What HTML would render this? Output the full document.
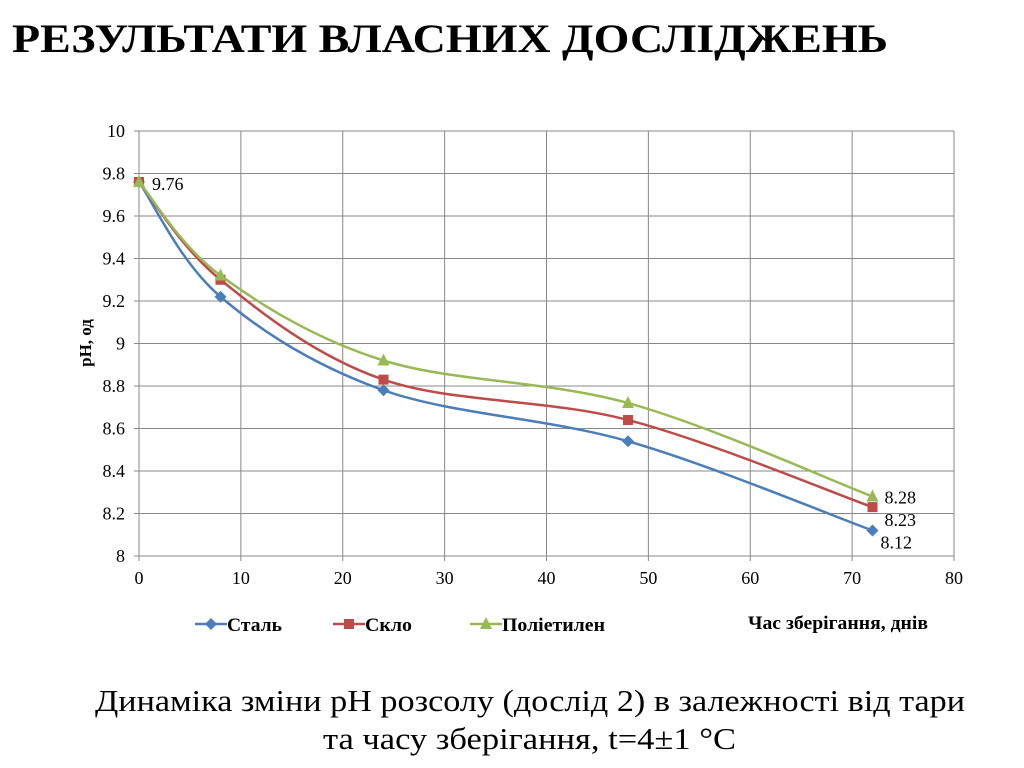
<!DOCTYPE html>
<html><head><meta charset="utf-8"><style>
body{margin:0;width:1024px;height:768px;background:#fff;overflow:hidden;font-family:"Liberation Serif",serif;}
svg{position:absolute;left:0;top:0;}
</style></head><body>
<svg id="chart" width="1024" height="768" font-family="Liberation Serif, serif">
<text x="12" y="52" font-size="40" font-weight="bold" textLength="876" lengthAdjust="spacingAndGlyphs">РЕЗУЛЬТАТИ  ВЛАСНИХ ДОСЛІДЖЕНЬ</text>
<text x="95" y="711" font-size="31" textLength="870" lengthAdjust="spacingAndGlyphs">Динаміка зміни pH розсолу (дослід 2) в залежності від тари</text>
<text x="323" y="749" font-size="31" textLength="413" lengthAdjust="spacingAndGlyphs">та часу зберігання, t=4±1 °C</text>
</svg>
<script>
const days=[0,8,24,48,72];
const steel=[9.76,9.22,8.78,8.54,8.12];
const glass=[9.76,9.30,8.83,8.64,8.23];
const poly=[9.76,9.32,8.92,8.72,8.28];
const xTicks=[0,10,20,30,40,50,60,70,80];
const yTicks=[8,8.2,8.4,8.6,8.8,9,9.2,9.4,9.6,9.8,10];
const X0=139,X1=954,Y0=556,Y1=131;
const sx=v=>X0+(v-0)/80*(X1-X0);
const sy=v=>Y0-(v-8)/2*(Y0-Y1);
const svg=document.getElementById('chart');
const NS='http://www.w3.org/2000/svg';
function mk(t,a,txt){const e=document.createElementNS(NS,t);for(const k in a)e.setAttribute(k,a[k]);if(txt!==undefined)e.textContent=txt;svg.appendChild(e);return e;}
xTicks.forEach(v=>{
const l=mk('line',{x1:sx(v),x2:sx(v),y1:Y1,y2:Y0+5,stroke:'#888','stroke-width':1});


const t=mk('text',{x:sx(v),y:Y0+28,'text-anchor':'middle','font-size':18},v);


});
yTicks.forEach(v=>{
const l=mk('line',{x1:X0-5,x2:X1,y1:sy(v),y2:sy(v),stroke:'#888','stroke-width':1});


const t=mk('text',{x:X0-14,y:sy(v)+6,'text-anchor':'end','font-size':18},String(v));


});
const yt=mk('text',{x:0,y:0,'font-size':17,'font-weight':'bold','text-anchor':'middle',transform:'translate(91,343) rotate(-90)'},'pH, од');


const xt=mk('text',{x:838,y:629,'font-size':19,'font-weight':'bold','text-anchor':'middle',textLength:180,lengthAdjust:'spacingAndGlyphs'},'Час зберігання, днів');


function path(vals){
const p=days.map((d,i)=>[sx(d),sy(vals[i])]);
let s='M'+p[0][0]+','+p[0][1];
for(let i=0;i<p.length-1;i++){
const a=p[Math.max(0,i-1)],b=p[i],c=p[i+1],d=p[Math.min(p.length-1,i+2)];
const c1=[b[0]+(c[0]-a[0])/6,b[1]+(c[1]-a[1])/6],c2=[c[0]-(d[0]-b[0])/6,c[1]-(d[1]-b[1])/6];
s+=' C'+c1+' '+c2+' '+c;}
return s;}
function marker(type,x,y,col){
let e;
if(type==='d')e=mk('polygon',{points:`${x},${y-6} ${x+6},${y} ${x},${y+6} ${x-6},${y}`,fill:col});
else if(type==='s')e=mk('rect',{x:x-5,y:y-5,width:10,height:10,fill:col});
else e=mk('polygon',{points:`${x},${y-7} ${x+6},${y+5} ${x-6},${y+5}`,fill:col});
return e;}
const series=[[steel,'#4a7ebb','d','steel'],[glass,'#be4b48','s','glass'],[poly,'#98b954','t','polyethylene']];
series.forEach(([vals,col,m,n])=>{
const p=mk('path',{d:path(vals),fill:'none',stroke:col,'stroke-width':2.5});


});
series.forEach(([vals,col,m,n])=>{
days.forEach((d,i)=>{const e=marker(m,sx(d),sy(vals[i]),col);

});
});
const labs=[[sx(0)+13,sy(9.76)+8,'9.76'],[sx(72)+12,sy(8.28)+7,'8.28'],[sx(72)+12,sy(8.23)+19,'8.23'],[sx(72)+8,sy(8.12)+18,'8.12']];
labs.forEach(([x,y,t])=>{const e=mk('text',{x:x,y:y,'font-size':18},t);

});
const leg=[[195,'Сталь',55],[333,'Скло',47],[470,'Поліетилен',103]];
leg.forEach(([x,t,w],i)=>{const [v,col,m,n]=series[i];
const l=mk('line',{x1:x,x2:x+32,y1:624,y2:624,stroke:col,'stroke-width':2.5});


const mm=marker(m,x+16,624,col);


const tx=mk('text',{x:x+32,y:631,'font-size':19,'font-weight':'bold',textLength:w,lengthAdjust:'spacingAndGlyphs'},t);


});
</script>
</body></html>
